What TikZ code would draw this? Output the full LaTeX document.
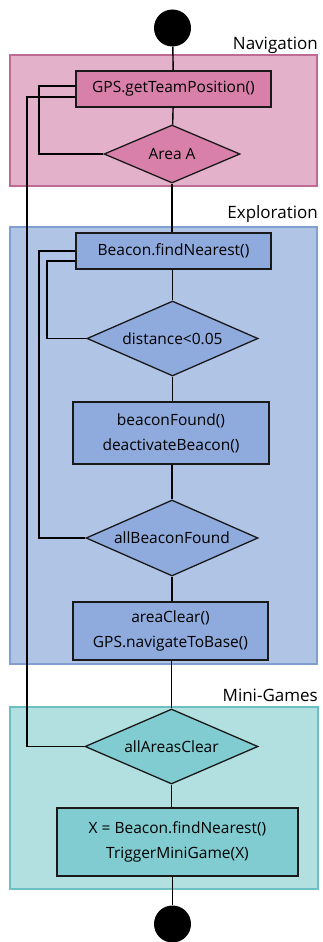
\documentclass[tikz,border=0pt]{standalone}
\usepackage{fontspec}
\setmainfont{Open Sans}
\usetikzlibrary{shapes.geometric,calc}
\definecolor{navband}{HTML}{E4B1CA}
\definecolor{navline}{HTML}{BF6A95}
\definecolor{navbox}{HTML}{D880AA}
\definecolor{expband}{HTML}{B0C4E6}
\definecolor{expline}{HTML}{7F9FCF}
\definecolor{expbox}{HTML}{8FAADC}
\definecolor{mgband}{HTML}{B2E0E1}
\definecolor{mgline}{HTML}{6CBFC2}
\definecolor{mgbox}{HTML}{80CCD0}
\tikzset{
  x=1pt,y=1pt,
  band/.style={line width=1.2pt},
  stepbox/.style={rectangle,draw=black!90,line width=1.3pt,inner sep=0pt,align=center,
    font=\fontsize{15.5}{25}\selectfont},
  decision/.style={diamond,draw=black!90,line width=1.3pt,inner sep=0pt,shape aspect=2.3,
    font=\fontsize{15.5}{18}\selectfont},
  term/.style={circle,fill=black,inner sep=0pt,minimum size=37pt},
  flow/.style={line width=1.4pt,black},
  loop/.style={line width=1.8pt,black},
  bandlabel/.style={anchor=base east,inner sep=0pt,font=\fontsize{17}{19}\selectfont}
}
\begin{document}
\begin{tikzpicture}
\useasboundingbox (0,0) rectangle (322,-942);
% bands
\draw[band,draw=navline,fill=navband] (10,-55) rectangle (317,-186);
\draw[band,draw=expline,fill=expband] (10,-227) rectangle (317,-664);
\draw[band,draw=mgline,fill=mgband] (10,-707) rectangle (318,-889);
\node[bandlabel] (lnav) at (318,-50) {Navigation};
\node[bandlabel] (lexp) at (318,-218) {Exploration};
\node[bandlabel] (lmg) at (318,-701) {Mini-Games};
% nodes
\node[term] (start) at (172.5,-28) {};
\node[stepbox,fill=navbox,minimum width=195pt,minimum height=36pt] (gps) at (173.5,-89) {GPS.getTeamPosition()};
\node[decision,fill=navbox,minimum width=136pt,minimum height=58pt] (areaA) at (172,-154) {Area A};
\node[stepbox,fill=expbox,minimum width=195pt,minimum height=36pt] (beacon) at (173.5,-251) {Beacon.findNearest()};
\node[decision,fill=expbox,minimum width=171pt,minimum height=75pt] (dist) at (172.5,-338.5) {distance<0.05};
\node[stepbox,fill=expbox,minimum width=196pt,minimum height=62pt] (found) at (171,-433) {beaconFound()\\deactivateBeacon()};
\node[decision,fill=expbox,minimum width=172pt,minimum height=76pt] (allb) at (172,-538) {allBeaconFound};
\node[stepbox,fill=expbox,minimum width=195pt,minimum height=58pt] (clear) at (170.5,-631) {areaClear()\\GPS.navigateToBase()};
\node[decision,fill=mgbox,minimum width=173pt,minimum height=75pt] (alla) at (171.5,-746.5) {allAreasClear};
\node[stepbox,fill=mgbox,minimum width=241pt,minimum height=68pt] (mini) at (177.5,-842) {X = Beacon.findNearest()\\TriggerMiniGame(X)};
\node[term] (stop) at (172.5,-924) {};
% main flow
\draw[flow] (start) -- (gps);
\draw[flow] (gps) -- (areaA);
\draw[flow] (areaA.south) -- (areaA.south |- beacon.north);
\draw[flow] (beacon.south -| dist.north) -- (dist.north);
\draw[flow] (dist.south) -- (dist.south |- found.north);
\draw[flow] (found.south -| allb.north) -- (allb.north);
\draw[flow] (allb.south) -- (allb.south |- clear.north);
\draw[flow] (clear.south -| alla.north) -- (alla.north);
\draw[flow] (alla.south) -- (alla.south |- mini.north);
\draw[flow] (mini.south -| stop.north) -- (stop);
% loops
\draw[loop] (areaA.west) -- ++(-64,0) |- ([yshift=3pt]gps.west);
\draw[loop] (alla.west) -- ++(-57.5,0) |- ([yshift=-8pt]gps.west);
\draw[loop] (dist.west) -- ++(-39,0) |- ([yshift=-10pt]beacon.west);
\draw[loop] (allb.west) -- ++(-46,0) |- (beacon.west);
\end{tikzpicture}
\end{document}
